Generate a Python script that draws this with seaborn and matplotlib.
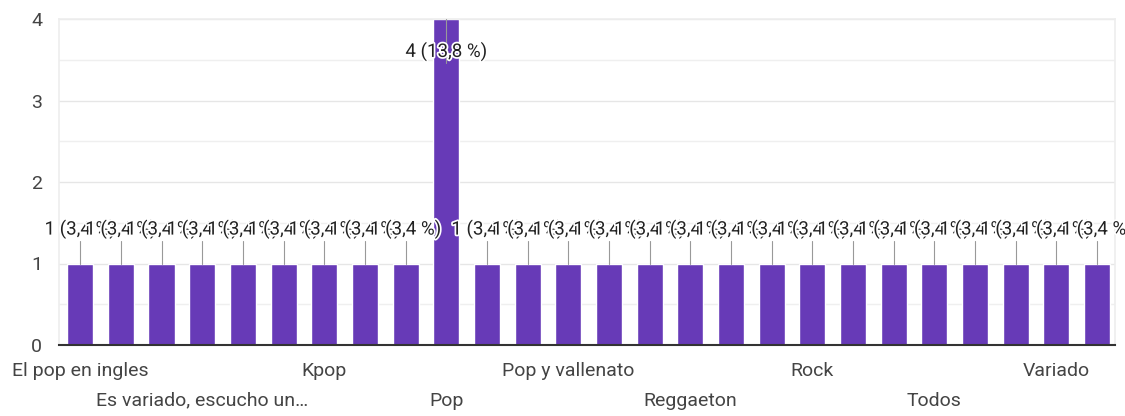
import matplotlib
matplotlib.use("Agg")
import matplotlib.pyplot as plt
import matplotlib.patheffects as pe
import seaborn as sns
import pandas as pd

categories = [
    "El pop en ingles", "Electrónica", "Electro pop", "Es variado, escucho un…",
    "Indie", "Jazz", "Kpop", "Merengue", "Música clásica", "Pop",
    "Pop rock", "Pop urbano", "Pop y vallenato", "Rap", "Reggae", "Reggaeton",
    "Reggaeton y trap", "Rnb", "Rock", "Rock en español", "Salsa", "Todos",
    "Trap", "Urbano", "Variado", "Variedad",
]
counts = [1, 1, 1, 1, 1, 1, 1, 1, 1, 4, 1, 1, 1, 1, 1, 1, 1, 1, 1, 1, 1, 1, 1, 1, 1, 1]
labels = ["1 (3,4 %)"] * 9 + ["4 (13,8 %)"] + ["1 (3,4 %)"] * 16

sns.set_theme(style="white")
plt.rcParams["font.family"] = ["Roboto", "DejaVu Sans"]

df = pd.DataFrame({"cat": categories, "n": counts})

fig = plt.figure(figsize=(11.25, 4.16), dpi=100)
ax = fig.add_axes([59 / 1125, 1 - 345 / 416, (1115 - 59) / 1125, (345 - 19) / 416])

sns.barplot(data=df, x="cat", y="n", color="#673AB7", saturation=1, width=0.64, ax=ax, zorder=2)

ax.set_ylim(0, 4)
ax.set_xlim(-0.52, len(categories) - 1 + 0.44)
ax.set_yticks([0, 1, 2, 3, 4])
ax.set_yticks([0.5, 1.5, 2.5, 3.5], minor=True)
ax.grid(axis="y", which="major", color="#e6e6e6", linewidth=1, zorder=0)
ax.grid(axis="y", which="minor", color="#efefef", linewidth=1, zorder=0)
ax.set_axisbelow(True)

ticklabels = []
for i, c in enumerate(categories):
    if i % 3 == 0:
        ticklabels.append(c if (i // 3) % 2 == 0 else "\n" + c)
    else:
        ticklabels.append("")
ax.set_xticks(range(len(categories)))
ax.set_xticklabels(ticklabels, fontsize=14, color="#444444", linespacing=1.85)
ax.tick_params(axis="x", length=0, pad=12)
ax.tick_params(axis="y", which="both", length=0, pad=12, labelsize=14, labelcolor="#444444")
for lab in ax.get_yticklabels():
    lab.set_horizontalalignment("right")

ax.set_xlabel("")
ax.set_ylabel("")
for s in ["top", "right", "left"]:
    ax.spines[s].set_color("#eeeeee")
ax.spines["bottom"].set_color("#333333")
ax.spines["bottom"].set_linewidth(1.5)

stroke = [pe.withStroke(linewidth=2.5, foreground="white")]
for i, (v, t) in enumerate(zip(counts, labels)):
    if v == max(counts):
        ty = v - 0.4
    else:
        ty = v + 0.42
    ax.plot([i, i], [v, ty - 0.14], color="#999999", linewidth=0.8, zorder=3)
    ax.text(i, ty, t, ha="center", va="center", fontsize=13.5, color="#222222",
            path_effects=stroke, zorder=4, clip_on=False)

fig.savefig("out.png", dpi=100, facecolor="white")
